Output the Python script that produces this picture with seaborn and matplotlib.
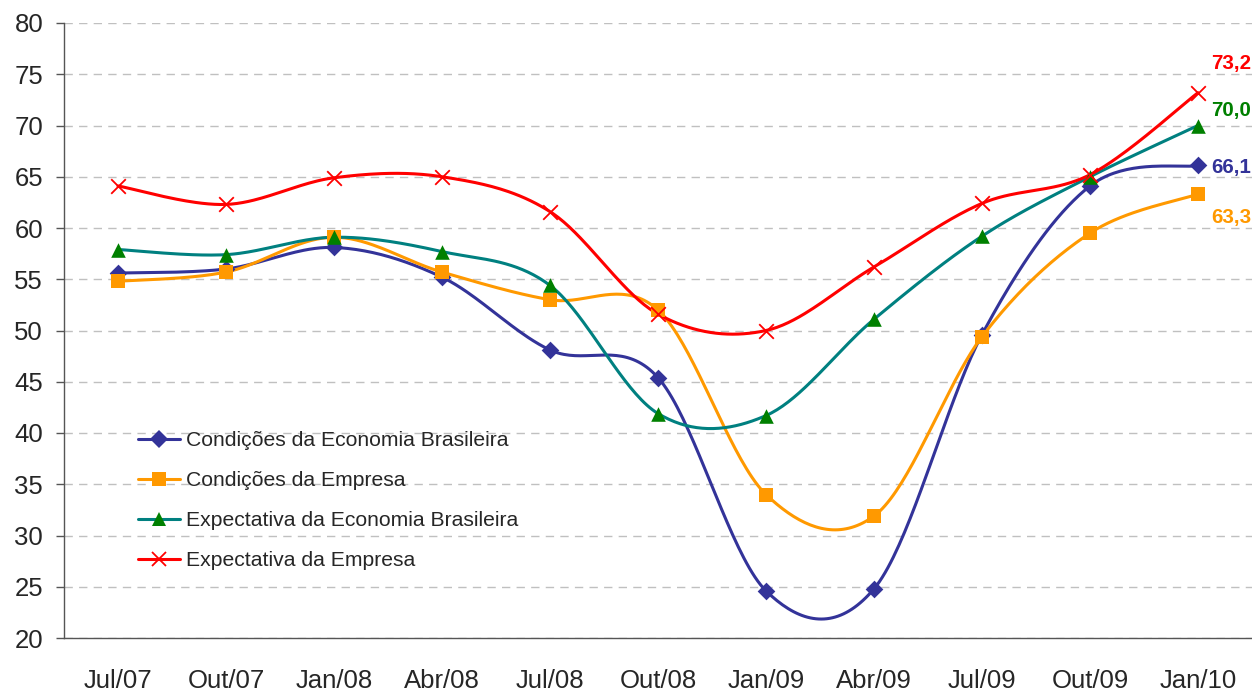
import numpy as np
import pandas as pd
import matplotlib
matplotlib.use('Agg')
import matplotlib.pyplot as plt
from matplotlib.lines import Line2D
import seaborn as sns

# dados
periodos = ['Jul/07', 'Out/07', 'Jan/08', 'Abr/08', 'Jul/08', 'Out/08',
            'Jan/09', 'Abr/09', 'Jul/09', 'Out/09', 'Jan/10']
cond_economia = [55.6, 56.0, 58.1, 55.2, 48.1, 45.4, 24.6, 24.8, 49.6, 64.1, 66.1]
cond_empresa = [54.8, 55.7, 59.1, 55.7, 53.0, 52.0, 34.0, 31.9, 49.4, 59.5, 63.3]
expec_economia = [57.9, 57.4, 59.1, 57.7, 54.4, 41.9, 41.7, 51.1, 59.2, 65.0, 70.0]
expec_empresa = [64.1, 62.3, 64.9, 65.0, 61.6, 51.6, 50.0, 56.2, 62.4, 65.2, 73.2]

nomes = ['Condições da Economia Brasileira', 'Condições da Empresa',
         'Expectativa da Economia Brasileira', 'Expectativa da Empresa']
valores = [cond_economia, cond_empresa, expec_economia, expec_empresa]

# estilo de cada serie: cor da linha, cor do marcador, marcador, tamanho, deslocamento do rotulo
estilos = [
    ('#333399', '#333399', 'D', 9, -1.5),
    ('#FF9900', '#FF9900', 's', 10.5, -16.5),
    ('#008080', '#008000', '^', 10.5, 10.5),
    ('#FF0000', '#FF0000', 'x', 10.5, 21),
]


def curva_suave(y, n=40):
    # suavizacao tipo Excel: bezier cubica com tangentes (P[i+1]-P[i-1])/6
    y = np.asarray(y, dtype=float)
    pts = np.column_stack([np.arange(len(y), dtype=float), y])
    ext = np.vstack([pts[0], pts, pts[-1]])
    t = np.linspace(0, 1, n)[:, None]
    partes = []
    for i in range(len(pts) - 1):
        p0, p3 = pts[i], pts[i + 1]
        c1 = p0 + (ext[i + 2] - ext[i]) / 6
        c2 = p3 - (ext[i + 3] - ext[i + 1]) / 6
        seg = (1 - t) ** 3 * p0 + 3 * (1 - t) ** 2 * t * c1 + 3 * (1 - t) * t ** 2 * c2 + t ** 3 * p3
        partes.append(seg if i == 0 else seg[1:])
    return np.vstack(partes)


sns.set_style('white')
plt.rcParams['font.family'] = ['Liberation Sans', 'DejaVu Sans']

fig = plt.figure(figsize=(12.52, 6.91), dpi=100)
ax = fig.add_axes([64 / 1252, 1 - 638 / 691, 1 - 64 / 1252, (638 - 23) / 691])

x_idx = np.arange(len(periodos))
handles = []
for nome, vals, (cor_linha, cor_marc, marc, ms, dy) in zip(nomes, valores, estilos):
    curva = curva_suave(vals)
    df_curva = pd.DataFrame({'x': curva[:, 0], 'y': curva[:, 1]})
    sns.lineplot(data=df_curva, x='x', y='y', sort=False, estimator=None,
                 color=cor_linha, linewidth=2.2, ax=ax, legend=False)
    df_pts = pd.DataFrame({'x': x_idx, 'y': vals})
    if marc == 'x':
        sns.scatterplot(data=df_pts, x='x', y='y', marker='x', color=cor_marc,
                        s=ms ** 2, linewidth=1.3, ax=ax, legend=False, zorder=3)
    else:
        sns.scatterplot(data=df_pts, x='x', y='y', marker=marc, color=cor_marc,
                        edgecolor=cor_marc, linewidth=0, s=ms ** 2, ax=ax,
                        legend=False, zorder=3)
    handles.append(Line2D([], [], color=cor_linha, linewidth=2.2, marker=marc,
                          markersize=ms, markerfacecolor=cor_marc,
                          markeredgecolor=cor_marc, markeredgewidth=1.3 if marc == 'x' else 0,
                          label=nome))
    ultimo = vals[-1]
    # rotulo do ultimo valor, encostado na borda direita
    ax.annotate(f'{ultimo:.1f}'.replace('.', ','), xy=(x_idx[-1], ultimo),
                xytext=(9.5, dy), textcoords='offset points', color=cor_marc,
                fontsize=14.8, fontweight='bold', ha='left', va='center',
                annotation_clip=False)

ax.set_xlim(-0.5, len(periodos) - 0.5)
ax.set_ylim(20, 80)
ax.set_yticks(np.arange(20, 81, 5))
ax.set_xticks(x_idx)
ax.set_xticklabels(periodos)
ax.set_xticks(np.arange(-0.5, len(periodos), 1), minor=True)
ax.set_xlabel('')
ax.set_ylabel('')

ax.tick_params(axis='x', which='major', length=0, pad=22, labelsize=18.5)
ax.tick_params(axis='x', which='minor', length=7, width=1, color='#555555', direction='out')
ax.tick_params(axis='y', length=6, width=1, color='#555555', direction='out',
               pad=9, labelsize=18.5, left=True)

ax.yaxis.grid(True, linestyle=(0, (6, 4.5)), color='#c0c0c0', linewidth=1)
ax.xaxis.grid(False)
ax.set_axisbelow(True)

for lado in ['top', 'right']:
    ax.spines[lado].set_visible(False)
for lado in ['left', 'bottom']:
    ax.spines[lado].set_color('#555555')
    ax.spines[lado].set_linewidth(1)

ax.legend(handles=handles, loc='upper left', bbox_to_anchor=(138 / 1252, 1 - 431 / 691),
          bbox_transform=fig.transFigure, frameon=False, fontsize=15.2,
          borderpad=0, borderaxespad=0, handlelength=2.0, handletextpad=0.25,
          labelspacing=1.0)

fig.savefig('out.png', dpi=100)
